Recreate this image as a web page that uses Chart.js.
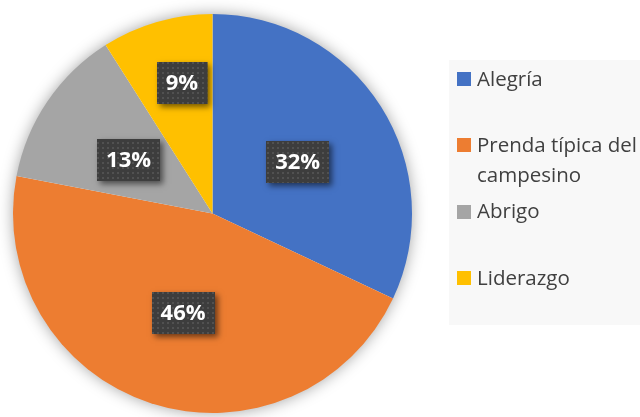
<!DOCTYPE html>
<html>
<head>
<meta charset="utf-8">
<script src="https://cdn.jsdelivr.net/npm/chart.js@4"></script>
<style>
html, body { margin: 0; padding: 0; background: #fff; overflow: hidden; }
#wrap { position: relative; width: 640px; height: 417px; }
</style>
</head>
<body>
<div id="wrap"><canvas id="pieChart" width="640" height="417"></canvas></div>
<script>
// chart values
const categories = ['Alegría', 'Prenda típica del campesino', 'Abrigo', 'Liderazgo'];
const percentages = [32, 46, 13, 9];
const sliceColors = ['#4472C4', '#ED7D31', '#A5A5A5', '#FFC000'];

// where each data label sits (fraction of radius, angle nudge in degrees)
const labelPlacement = [
    { frac: 0.5, shift: 1 },
    { frac: 0.52, shift: -1.5 },
    { frac: 0.5, shift: -1.5 },
    { frac: 0.67, shift: 3 }
];

// dotted dark fill used behind the data labels
function makeDotPattern(ctx) {
    const p = document.createElement('canvas');
    p.width = 5; p.height = 5;
    const pc = p.getContext('2d');
    pc.fillStyle = '#3d3d3d';
    pc.fillRect(0, 0, 5, 5);
    pc.fillStyle = '#515151';
    pc.fillRect(2, 2, 2, 2);
    return ctx.createPattern(p, 'repeat');
}

const pieShadow = {
    id: 'pieShadow',
    beforeDatasetsDraw(chart) {
        const arc = chart.getDatasetMeta(0).data[0];
        if (!arc) return;
        const { x, y, outerRadius } = arc.getProps(['x', 'y', 'outerRadius'], true);
        const ctx = chart.ctx;
        ctx.save();
        ctx.shadowColor = 'rgba(0,0,0,0.4)';
        ctx.shadowBlur = 16;
        ctx.fillStyle = '#ffffff';
        ctx.beginPath();
        ctx.arc(x, y, outerRadius - 1, 0, Math.PI * 2);
        ctx.fill();
        ctx.restore();
    }
};

const boxLabels = {
    id: 'boxLabels',
    afterDatasetsDraw(chart) {
        const ctx = chart.ctx;
        const pattern = makeDotPattern(ctx);
        chart.getDatasetMeta(0).data.forEach((arc, i) => {
            const p = arc.getProps(['x', 'y', 'startAngle', 'endAngle', 'outerRadius'], true);
            const place = labelPlacement[i];
            const mid = (p.startAngle + p.endAngle) / 2 + place.shift * Math.PI / 180;
            const r = p.outerRadius * place.frac;
            const cx = p.x + Math.cos(mid) * r;
            const cy = p.y + Math.sin(mid) * r;
            const text = percentages[i] + '%';
            ctx.save();
            ctx.font = 'bold 22px "Open Sans"';
            const w = ctx.measureText(text).width + 18;
            const h = 42;
            const bx = Math.round(cx - w / 2), by = Math.round(cy - h / 2);
            ctx.shadowColor = 'rgba(0,0,0,0.55)';
            ctx.shadowBlur = 6;
            ctx.shadowOffsetX = 3;
            ctx.shadowOffsetY = 3;
            ctx.fillStyle = '#3d3d3d';
            ctx.fillRect(bx, by, w, h);
            ctx.shadowColor = 'transparent';
            ctx.fillStyle = pattern;
            ctx.fillRect(bx, by, w, h);
            ctx.fillStyle = '#ffffff';
            ctx.textAlign = 'center';
            ctx.textBaseline = 'middle';
            ctx.fillText(text, cx, by + h / 2 + 1);
            ctx.restore();
        });
    }
};

const sideLegend = {
    id: 'sideLegend',
    afterDraw(chart) {
        const ctx = chart.ctx;
        ctx.save();
        ctx.fillStyle = '#f8f8f8';
        ctx.fillRect(449, 60, 191, 265);
        ctx.font = '20.5px "Open Sans"';
        ctx.textBaseline = 'middle';
        const maxW = 172;
        chart.data.labels.forEach((label, i) => {
            const rowY = 79 + i * 66.3;
            ctx.fillStyle = sliceColors[i];
            ctx.fillRect(457, Math.round(rowY - 7), 14, 14);
            // simple word wrap
            const words = label.split(' ');
            const lines = [];
            let line = '';
            words.forEach(wd => {
                const test = line ? line + ' ' + wd : wd;
                if (ctx.measureText(test).width > maxW && line) {
                    lines.push(line);
                    line = wd;
                } else {
                    line = test;
                }
            });
            lines.push(line);
            ctx.fillStyle = '#404040';
            lines.forEach((ln, k) => ctx.fillText(ln, 477, rowY + 1 + k * 30));
        });
        ctx.restore();
    }
};

new Chart(document.getElementById('pieChart').getContext('2d'), {
    type: 'pie',
    data: {
        labels: categories,
        datasets: [{
            data: percentages,
            backgroundColor: sliceColors,
            borderWidth: 0
        }]
    },
    options: {
        responsive: false,
        animation: false,
        layout: { padding: { left: 13, right: 228, top: 14, bottom: 4 } },
        plugins: {
            legend: { display: false },
            tooltip: { enabled: false }
        }
    },
    plugins: [pieShadow, boxLabels, sideLegend]
});
</script>
</body>
</html>
